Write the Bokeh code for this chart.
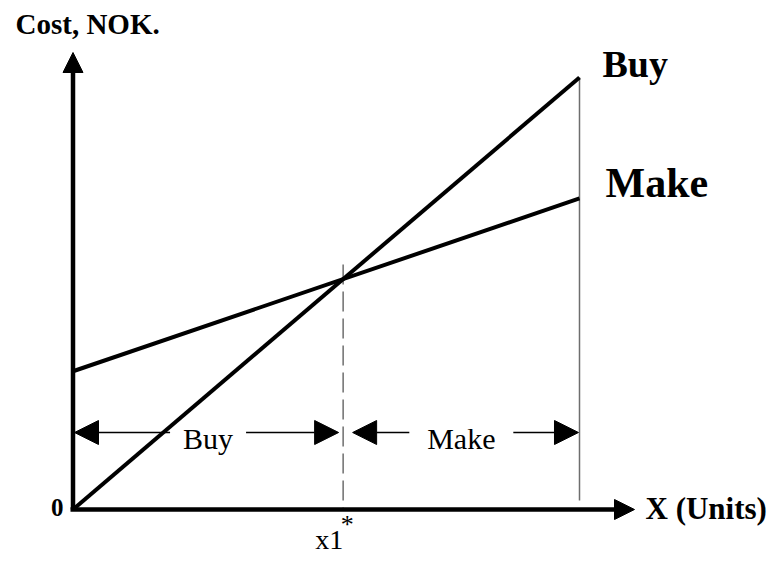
from bokeh.plotting import figure
from bokeh.models import Range1d, Arrow, NormalHead, Label
from bokeh.embed import file_html
from bokeh.resources import INLINE

# ---- data ----
units = [0, 100]                 # X (Units) range shown
buy_cost = [0, 100]              # Buy: pure variable cost
make_cost = [32, 72]             # Make: fixed + lower variable cost
series_names = ["Buy", "Make"]
y_title = "Cost, NOK."
x_title = "X (Units)"
origin_label = "0"
xstar_label = "x1"

# break-even point
buy_slope = (buy_cost[1] - buy_cost[0]) / (units[1] - units[0])
make_slope = (make_cost[1] - make_cost[0]) / (units[1] - units[0])
x_star = (make_cost[0] - buy_cost[0]) / (buy_slope - make_slope)
y_star = buy_cost[0] + buy_slope * x_star

# ---- layout (pixel mapping) ----
W, H = 771, 555
SX, SY = 5.065, 4.32           # px per data unit
OX, OY = 72.5, 509             # origin in picture px


def fx(X):
    return (X - OX) / SX


def fy(Y):
    return (OY - Y) / SY


def mid(baseline_px, size):
    # vertical centre of the text box for a given alphabetic baseline
    return fy(baseline_px - 0.34 * size)


p = figure(width=W, height=H, output_backend="svg", toolbar_location=None,
           x_range=Range1d(fx(0), fx(W)),
           y_range=Range1d(fy(H), fy(0)),
           min_border=0, min_border_left=0, min_border_right=0,
           min_border_top=0, min_border_bottom=0)
p.axis.visible = False
p.grid.visible = False
p.outline_line_color = None
p.background_fill_color = "white"
p.border_fill_color = "white"

FONT = "Liberation Serif"
GREY = "#6e6e6e"

# vertical guide lines
p.line([units[1], units[1]], [buy_cost[1], fy(500)], line_color=GREY, line_width=1.5)
p.line([x_star, x_star], [fy(264), 0], line_color=GREY, line_width=1.5, line_dash="20 7")

# cost lines
p.line(units, buy_cost, line_color="black", line_width=4)
p.line(units, make_cost, line_color="black", line_width=4)

# axes with arrows
p.add_layout(Arrow(end=NormalHead(size=20, fill_color="black", line_color="black"),
                   x_start=0, y_start=0, x_end=0, y_end=fy(52),
                   line_width=4.5, line_color="black"))
p.add_layout(Arrow(end=NormalHead(size=20, fill_color="black", line_color="black"),
                   x_start=fx(70), y_start=0, x_end=fx(634), y_end=0,
                   line_width=4.5, line_color="black"))

# range arrows
ry = fy(432)
buy_mid = (0 + x_star) / 2
make_mid = (x_star + units[1]) / 2
gap_buy = 38 / SX
gap_make = 52 / SX
tip_pad_in = 4.5 / SX
ranges = [
    (fx(74), buy_mid - gap_buy),
    (x_star - tip_pad_in, buy_mid + gap_buy),
    (x_star + 9.5 / SX, make_mid - gap_make),
    (units[1] - 0.2, make_mid + gap_make),
]
for tip, start in ranges:
    p.add_layout(Arrow(end=NormalHead(size=24, fill_color="black", line_color="black"),
                       x_start=start, y_start=ry, x_end=tip, y_end=ry,
                       line_width=1.5, line_color="black"))


def label(x, baseline_px, text, size, align="left", bold=False):
    p.add_layout(Label(x=x, y=mid(baseline_px, size), text=text, text_align=align,
                       text_baseline="middle", text_font=FONT,
                       text_font_size=f"{size}px",
                       text_font_style="bold" if bold else "normal",
                       text_color="black"))


label(buy_mid, 448, series_names[0], 30, "center")
label(make_mid, 448, series_names[1], 30, "center")

# series labels at right
label(units[1] + 23 / SX, 76, series_names[0], 38, "left", True)
label(units[1] + 26 / SX, 197, series_names[1], 42, "left", True)

# axis titles
label(fx(15), 33, y_title, 29, "left", True)
label(fx(645), 519, x_title, 31, "left", True)
label(fx(63), 515, origin_label, 25, "right", True)

# x1* label
label(x_star, 549, xstar_label, 28, "right")
label(x_star + 4 / SX, 533, "*", 26, "center")

open("out.html", "w").write(file_html(p, INLINE))
